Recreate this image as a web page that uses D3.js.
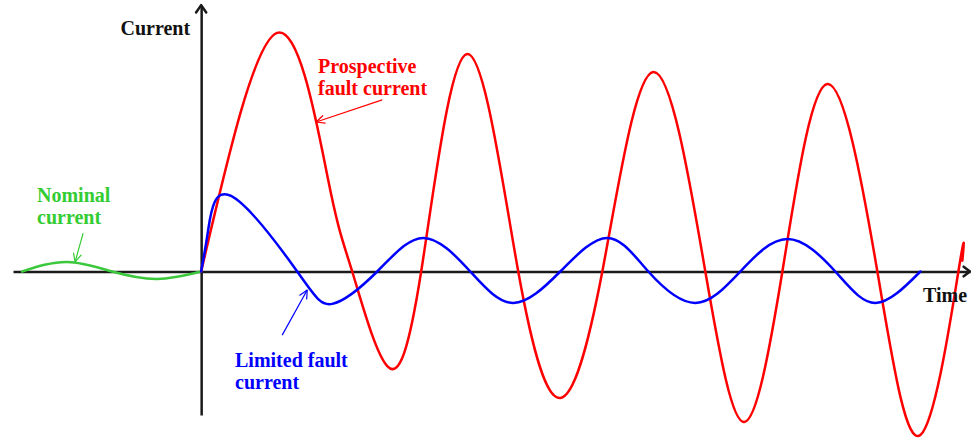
<!DOCTYPE html>
<html>
<head>
<meta charset="utf-8">
<script src="https://cdn.jsdelivr.net/npm/d3@7"></script>
<style>
  html, body { margin: 0; padding: 0; background: #fff; }
  svg { display: block; }
  text { font-family: "Liberation Serif", "Times New Roman", serif; font-weight: bold; font-size: 20px; }
</style>
</head>
<body>
<svg id="chart" width="971" height="438"></svg>
<script>
// ---- Data (time in ms, current in arbitrary units) ----
// Prospective fault current: start, zero crossings and extrema
const redTime    = [0, 8.44, 14.11, 16.78, 20.67, 24.44, 29.56, 35.22, 39.89, 44.56, 50.22, 56.0, 60.33, 64.56, 69.56, 75.11, 79.89, 84.11, 84.55];
const redCurrent = [0, 99.4, 38.1, 0, -39.4, 0, 90.6, 0, -52.7, 0, 83.1, 0, -62.7, 0, 78.1, 0, -68.1, 0, 4.5];

// Limited fault current
const blueTime    = [0, 0.78, 3.33, 10.67, 14.56, 19.56, 24.67, 29.89, 34.67, 39.89, 45.11, 49.67, 54.89, 59.89, 65.11, 70.44, 74.89, 79.89];
const blueCurrent = [0, 17.3, 31.5, 0, -13.5, 0, 14.0, 0, -13.1, 0, 14.0, 0, -13.1, 0, 13.5, 0, -13.1, 0];

// Nominal current
const greenTime    = [-19.89, -14.89, -9.89, -4.89, 0];
const greenCurrent = [0, 4.0, 0, -3.1, 0];

const axisLabels = { x: "Time", y: "Current" };
const annotationText = {
  red: ["Prospective", "fault current"],
  blue: ["Limited fault", "current"],
  green: ["Nominal", "current"]
};

// ---- Scales ----
const svg = d3.select("#chart");
const x = d3.scaleLinear().domain([-20.9, 85.4]).range([13, 970]);
const y = d3.scaleLinear().domain([-70, 110]).range([439.5, 7.5]);

const axisColor = "#1a1a1a";

// X axis (no ticks, just the line)
const xAxis = d3.axisBottom(x).tickValues([]).tickSizeOuter(0);
const gx = svg.append("g").attr("transform", `translate(0,${y(0)})`).call(xAxis);
gx.select(".domain").attr("stroke", axisColor).attr("stroke-width", 2.5);

// Y axis
const yAxisScale = y.copy().domain([-59.8, 111]).range([y(-59.8), y(111)]);
const yAxis = d3.axisLeft(yAxisScale).tickValues([]).tickSizeOuter(0);
const gy = svg.append("g").attr("transform", `translate(${x(0)},0)`).call(yAxis);
gy.select(".domain").attr("stroke", axisColor).attr("stroke-width", 2.5);

// Axis arrowheads
function chevron(tipX, tipY, angle, len, spread, color, width) {
  const a1 = angle + Math.PI - spread, a2 = angle + Math.PI + spread;
  const p = d3.path();
  p.moveTo(tipX + len * Math.cos(a1), tipY + len * Math.sin(a1));
  p.lineTo(tipX, tipY);
  p.lineTo(tipX + len * Math.cos(a2), tipY + len * Math.sin(a2));
  svg.append("path").attr("d", p.toString()).attr("fill", "none")
    .attr("stroke", color).attr("stroke-width", width)
    .attr("stroke-linecap", "round").attr("stroke-linejoin", "round");
}
chevron(x(0), yAxisScale(111), -Math.PI / 2, 9, 0.6, axisColor, 2.5);
chevron(x(85.4), y(0), 0, 8, 0.65, axisColor, 2.5);

// ---- Curves ----
const line = d3.line().x(d => x(d[0])).y(d => y(d[1])).curve(d3.curveNatural);
function drawSeries(ts, vs, color) {
  svg.append("path").datum(d3.zip(ts, vs)).attr("d", line)
    .attr("fill", "none").attr("stroke", color).attr("stroke-width", 2.5)
    .attr("stroke-linejoin", "round").attr("stroke-linecap", "round");
}
drawSeries(greenTime, greenCurrent, "#3cc83c");
drawSeries(redTime, redCurrent, "#ff0000");
drawSeries(blueTime, blueCurrent, "#0000ff");

// ---- Axis labels ----
svg.append("text").attr("x", x(0) - 11).attr("y", 35).attr("text-anchor", "end")
  .attr("fill", "#111").text(axisLabels.y);
svg.append("text").attr("x", 923).attr("y", 302).attr("fill", "#111").text(axisLabels.x);

// ---- Annotations ----
function annotate(lines, tx, ty, color, from, to) {
  const t = svg.append("text").attr("fill", color);
  lines.forEach((s, i) => t.append("tspan").attr("x", tx).attr("y", ty + i * 21.5).text(s));
  const x1 = x(from[0]), y1 = y(from[1]), x2 = x(to[0]), y2 = y(to[1]);
  svg.append("line").attr("x1", x1).attr("y1", y1).attr("x2", x2).attr("y2", y2)
    .attr("stroke", color).attr("stroke-width", 1.2);
  chevron(x2, y2, Math.atan2(y2 - y1, x2 - x1), 9, 0.45, color, 1.2);
}
annotate(annotationText.red, 318, 73, "#ff0000", [20.11, 71.5], [12.78, 62.3]);
annotate(annotationText.blue, 235, 367, "#0000ff", [9.0, -26.5], [11.78, -7.7]);
annotate(annotationText.green, 37, 202, "#33cc33", [-13.11, 16.0], [-14.0, 4.0]);
</script>
</body>
</html>
